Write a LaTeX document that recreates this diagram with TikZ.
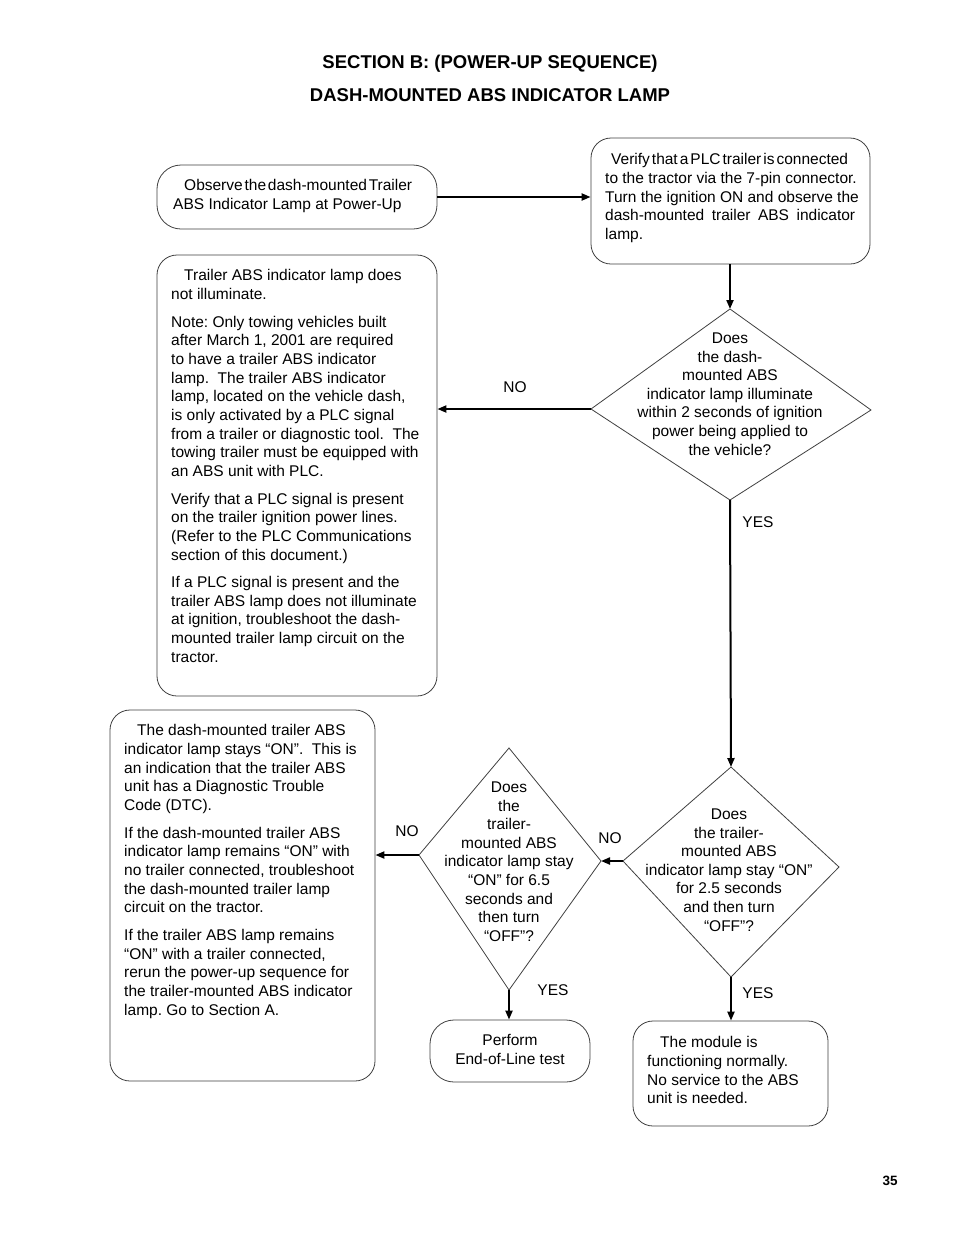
\documentclass[tikz,border=0pt]{standalone}
\usepackage{fontspec}
\setmainfont{Liberation Sans}
\usetikzlibrary{arrows.meta}
\frenchspacing
\begin{document}
\begin{tikzpicture}[x=1bp,y=-1bp,
  box/.style={draw=black!75, line width=0.8bp, rounded corners=20bp, inner sep=0pt},
  dia/.style={draw=black!75, line width=0.8bp},
  txt/.style={font=\fontsize{15.5bp}{18.65bp}\selectfont, align=left, inner sep=0pt, anchor=north west},
  ctr/.style={font=\fontsize{15.5bp}{18.65bp}\selectfont, align=center, inner sep=0pt, anchor=north},
  lbl/.style={font=\fontsize{15.5bp}{18bp}\selectfont, inner sep=0pt},
  ttl/.style={font=\fontsize{18.5bp}{22bp}\selectfont\bfseries, inner sep=0pt},
  flow/.style={line width=2bp, -{Triangle[length=9bp,width=7bp]}}]

\fill[white] (0,0) rectangle (954,1235);
\useasboundingbox (0,0) rectangle (954,1235);

% titles
\node[ttl] (t1) at (490,63.5) {SECTION B: (POWER-UP SEQUENCE)};
\node[ttl] (t2) at (490,95.5) {DASH-MOUNTED ABS INDICATOR LAMP};
\node[font=\fontsize{13.5bp}{16bp}\selectfont\bfseries, inner sep=0pt] (pg) at (890,1181) {35};

% boxes
\node[box, rounded corners=24bp, minimum width=280bp, minimum height=64bp] (A) at (297,197) {};
\node[box, minimum width=279bp, minimum height=126bp] (B) at (730.5,201) {};
\node[box, minimum width=280bp, minimum height=441bp] (C) at (297,475.5) {};
\node[box, minimum width=265bp, minimum height=371bp] (E) at (242.5,895.5) {};
\node[box, rounded corners=24bp, minimum width=160bp, minimum height=62bp] (F) at (510,1051) {};
\node[box, minimum width=195bp, minimum height=105bp] (G) at (730.5,1073.5) {};

% diamonds
\coordinate (d1t) at (730,309); \coordinate (d1r) at (871,410);
\coordinate (d1b) at (730,500); \coordinate (d1l) at (591,409);
\coordinate (d2t) at (509,748); \coordinate (d2r) at (601,861);
\coordinate (d2b) at (509,990); \coordinate (d2l) at (419,855);
\coordinate (d3t) at (731,767); \coordinate (d3r) at (839,867);
\coordinate (d3b) at (731,977); \coordinate (d3l) at (623,861);
\draw[dia] (d1t) -- (d1r) -- (d1b) -- (d1l) -- cycle;
\draw[dia] (d2t) -- (d2r) -- (d2b) -- (d2l) -- cycle;
\draw[dia] (d3t) -- (d3r) -- (d3b) -- (d3l) -- cycle;

% texts
\node[txt] (At) at (173,179.5) {\hspace{11bp}Observe\hspace{1.8bp}the\hspace{1.8bp}dash-mounted\hspace{1.8bp}Trailer\\ABS Indicator Lamp at Power-Up};
\node[txt] (Bt) at (605,153.5) {\hspace{6bp}Verify\hspace{2bp}that\hspace{2bp}a\hspace{2bp}PLC\hspace{2bp}trailer\hspace{2bp}is\hspace{2bp}connected\\to the tractor via the 7-pin connector.\\Turn the ignition ON and observe the\\\makebox[250bp][s]{dash-mounted trailer ABS indicator}\\lamp.};
\node[txt] (Ct) at (171,269.5) {\hspace{13bp}Trailer ABS indicator lamp does\\not illuminate.\\[9bp]
Note: Only towing vehicles built\\after March 1, 2001 are required\\to have a trailer ABS indicator\\lamp.\ \ The trailer ABS indicator\\lamp, located on the vehicle dash,\\is only activated by a PLC signal\\from a trailer or diagnostic tool.\ \ The\\towing trailer must be equipped with\\an ABS unit with PLC.\\[9bp]
Verify that a PLC signal is present\\on the trailer ignition power lines.\\(Refer to the PLC Communications\\section of this document.)\\[9bp]
If a PLC signal is present and the\\trailer ABS lamp does not illuminate\\at ignition, troubleshoot the dash-\\mounted trailer lamp circuit on the\\tractor.};
\node[txt] (Et) at (124,724.5) {\hspace{13bp}The dash-mounted trailer ABS\\indicator lamp stays “ON”.\ \ This is\\an indication that the trailer ABS\\unit has a Diagnostic Trouble\\Code (DTC).\\[9bp]
If the dash-mounted trailer ABS\\indicator lamp remains “ON” with\\no trailer connected, troubleshoot\\the dash-mounted trailer lamp\\circuit on the tractor.\\[9bp]
If the trailer ABS lamp remains\\“ON” with a trailer connected,\\rerun the power-up sequence for\\the trailer-mounted ABS indicator\\lamp. Go to Section A.};
\node[ctr, anchor=center] (Ft) at (510,1049.5) {Perform\\End-of-Line test};
\node[txt] (Gt) at (647,1036.5) {\hspace{13bp}The module is\\functioning normally.\\No service to the ABS\\unit is needed.};

\node[ctr] (D1t) at (730,332.5) {Does\\the dash-\\mounted ABS\\indicator lamp illuminate\\within 2 seconds of ignition\\power being applied to\\the vehicle?};
\node[ctr] (D2t) at (509,781.5) {Does\\the\\trailer-\\mounted ABS\\indicator lamp stay\\“ON” for 6.5\\seconds and\\then turn\\“OFF”?};
\node[ctr] (D3t) at (729,808.5) {Does\\the trailer-\\mounted ABS\\indicator lamp stay “ON”\\for 2.5 seconds\\and then turn\\“OFF”?};

% connectors
\draw[flow] (A.east) -- (A.east -| B.west);
\draw[flow] (B.south -| d1t) -- (d1t);
\draw[flow] (d1l) -- (d1l -| C.east);
\draw[flow] (d1b) -- (d3t);
\draw[flow] (d3l) -- (d2r);
\draw[flow] (d2l) -- (d2l -| E.east);
\draw[flow] (d2b) -- (d2b |- F.north);
\draw[flow] (d3b) -- (d3b |- G.north);

% labels
\node[lbl] (no1) at (515,387.5) {NO};
\node[lbl] (yes1) at (758,522.5) {YES};
\node[lbl] (no2) at (610,838.5) {NO};
\node[lbl] (no3) at (407,831.5) {NO};
\node[lbl] (yes2) at (553,990.5) {YES};
\node[lbl] (yes3) at (758,993.5) {YES};
\end{tikzpicture}
\end{document}
